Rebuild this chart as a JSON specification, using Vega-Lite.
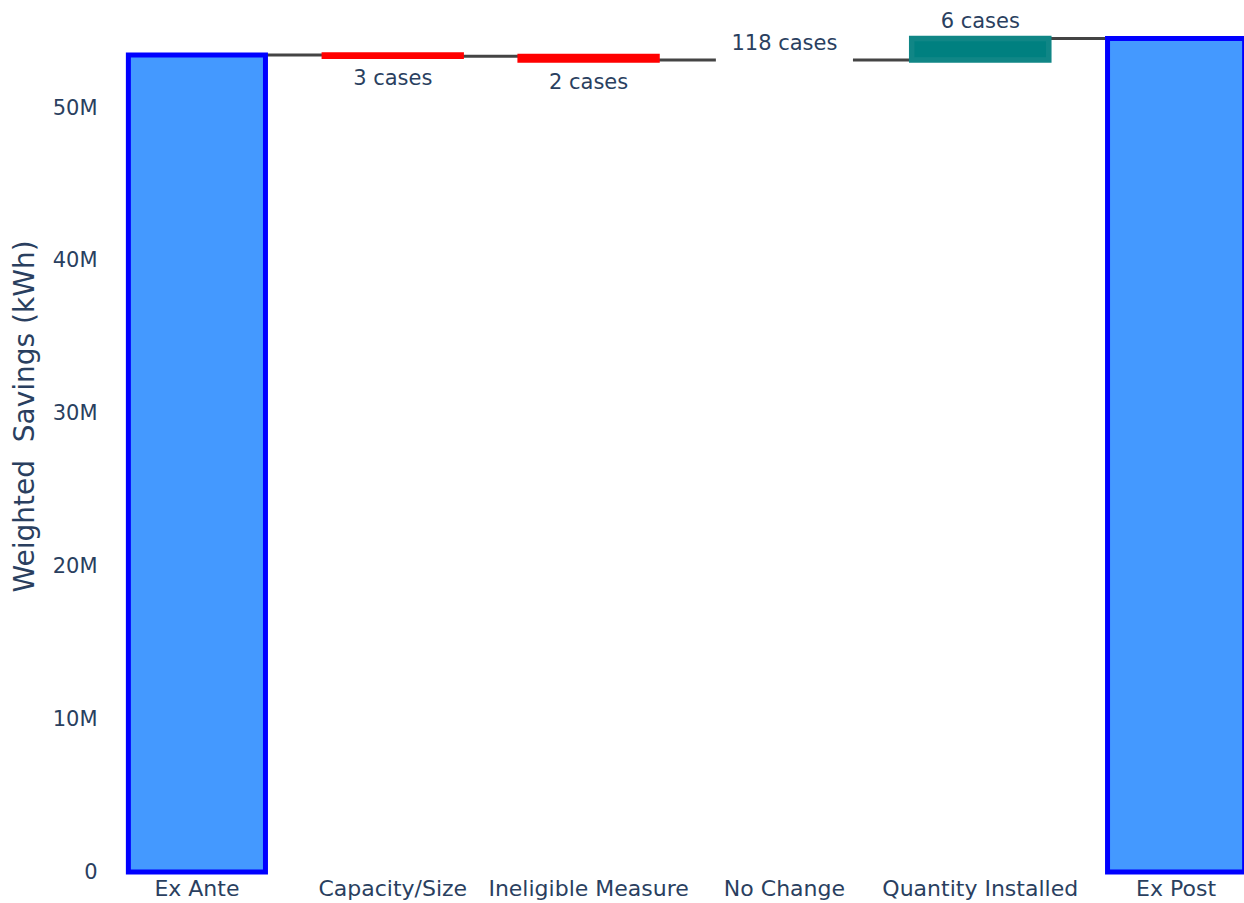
{
  "$schema": "https://vega.github.io/schema/vega-lite/v6.json",
  "autosize": {"type": "none"},
  "width": 1145,
  "height": 864,
  "padding": {"left": 99, "top": 8, "right": 0, "bottom": 31},
  "background": "white",
  "config": {
    "view": {"stroke": null},
    "font": "DejaVu Sans"
  },
  "data": {
    "values": [
      {"step": "Ex Ante", "start": 0, "end": 53470000, "kind": "total", "next": "Capacity/Size", "label": ""},
      {"step": "Capacity/Size", "start": 53470000, "end": 53380000, "kind": "decrease", "next": "Ineligible Measure", "label": "3 cases"},
      {"step": "Ineligible Measure", "start": 53380000, "end": 53140000, "kind": "decrease", "next": "No Change", "label": "2 cases"},
      {"step": "No Change", "start": 53140000, "end": 53140000, "kind": "none", "next": "Quantity Installed", "label": "118 cases"},
      {"step": "Quantity Installed", "start": 53140000, "end": 54550000, "kind": "increase", "next": "Ex Post", "label": "6 cases"},
      {"step": "Ex Post", "start": 0, "end": 54550000, "kind": "total", "next": null, "label": ""}
    ]
  },
  "encoding": {
    "x": {
      "field": "step",
      "type": "nominal",
      "sort": null,
      "scale": {
        "domain": ["Ex Ante", "Capacity/Size", "Ineligible Measure", "No Change", "Quantity Installed", "Ex Post"],
        "range": [0, 1175],
        "paddingInner": 0.3,
        "paddingOuter": 0.15
      },
      "axis": {
        "title": null,
        "labelAngle": 0,
        "domain": false,
        "ticks": false,
        "grid": false,
        "labelFontSize": 22,
        "labelLimit": 0,
        "labelColor": "#2a3f5f",
        "labelPadding": 6
      }
    }
  },
  "layer": [
    {
      "transform": [{"filter": "datum.next != null"}],
      "mark": {"type": "rule", "color": "#444444", "strokeWidth": 3},
      "encoding": {
        "x": {"field": "step", "type": "nominal", "bandPosition": 1},
        "x2": {"field": "next", "bandPosition": 0},
        "y": {
          "field": "end",
          "type": "quantitative",
          "scale": {"domain": [0, 56545000], "nice": false, "zero": true},
          "axis": {
            "title": "Weighted\u00a0 Savings (kWh)",
            "values": [0, 10000000, 20000000, 30000000, 40000000, 50000000],
            "labelExpr": "datum.value == 0 ? '0' : round(datum.value / 1000000) + 'M'",
            "domain": false,
            "ticks": false,
            "grid": false,
            "labelFontSize": 21,
            "labelColor": "#2a3f5f",
            "labelPadding": 2,
            "titleFontSize": 28,
            "titleFontWeight": "normal",
            "titleColor": "#2a3f5f",
            "titleAngle": -90,
            "titleAlign": "center",
            "titleBaseline": "alphabetic",
            "titleX": -66,
            "titleY": 408
          }
        }
      }
    },
    {
      "transform": [{"filter": "datum.kind != 'none'"}],
      "mark": {"type": "bar"},
      "encoding": {
        "y": {"field": "start", "type": "quantitative"},
        "y2": {"field": "end"},
        "fill": {
          "field": "kind",
          "type": "nominal",
          "scale": {"domain": ["total", "decrease", "increase"], "range": ["#4499ff", "#b00000", "#008080"]},
          "legend": null
        },
        "stroke": {
          "field": "kind",
          "type": "nominal",
          "scale": {"domain": ["total", "decrease", "increase"], "range": ["#0000ff", "#ff0000", "#108686"]},
          "legend": null
        },
        "strokeWidth": {
          "field": "kind",
          "type": "nominal",
          "scale": {"domain": ["total", "decrease", "increase"], "range": [5, 5.5, 1]},
          "legend": null
        }
      }
    },
    {
      "transform": [{"filter": "datum.kind == 'decrease'"}],
      "mark": {"type": "text", "fontSize": 21, "color": "#2a3f5f", "baseline": "alphabetic", "dy": 29},
      "encoding": {
        "y": {"field": "end", "type": "quantitative"},
        "text": {"field": "label"}
      }
    },
    {
      "transform": [{"filter": "datum.kind == 'increase' || datum.kind == 'none'"}],
      "mark": {"type": "text", "fontSize": 21, "color": "#2a3f5f", "baseline": "alphabetic", "dy": -10},
      "encoding": {
        "y": {"field": "end", "type": "quantitative"},
        "text": {"field": "label"}
      }
    }
  ]
}
